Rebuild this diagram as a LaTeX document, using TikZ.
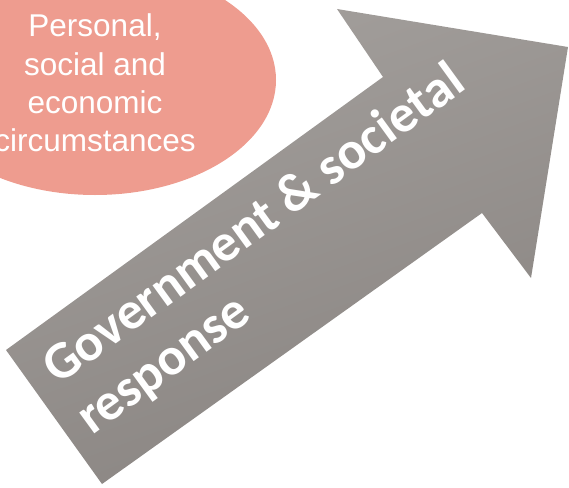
\documentclass[tikz,border=0pt]{standalone}
\usepackage{fontspec}
\setmainfont{Liberation Sans}
\newfontfamily\carlito{Carlito}
\usetikzlibrary{shapes.geometric}
\definecolor{salmon}{RGB}{238,156,143}
\definecolor{arrowlight}{RGB}{163,159,156}
\definecolor{arrowdark}{RGB}{137,132,129}
\tikzset{
  bubble/.style={ellipse, fill=salmon, inner sep=0pt, minimum width=362pt, minimum height=230pt},
  bubbletext/.style={text=white, align=center, inner sep=0pt, font=\fontsize{31.5}{38.3}\selectfont},
  arrowtext/.style={text=white, rotate=36, anchor=base west, inner sep=0pt, font=\carlito\bfseries\fontsize{53}{64}\selectfont}
}
\begin{document}
\begin{tikzpicture}[x=1pt,y=-1pt]
\useasboundingbox (0,0) rectangle (569,487);
\clip (0,0) rectangle (569,487);
\node[bubble] (circ) at (95,80) {};
\node[bubbletext] (circtext) at (95,83) {Personal,\\social and\\economic\\circumstances};
\shade[top color=arrowlight, bottom color=arrowdark, shading angle=20]
  (6,350) -- (383,77) -- (337,9) -- (568,47) -- (531,278) -- (482,213) -- (102,484) -- cycle;
\node[arrowtext] (t1) at (58,386) {Government \& societal};
\node[arrowtext] (t2) at (92,436) {response};
\end{tikzpicture}
\end{document}
